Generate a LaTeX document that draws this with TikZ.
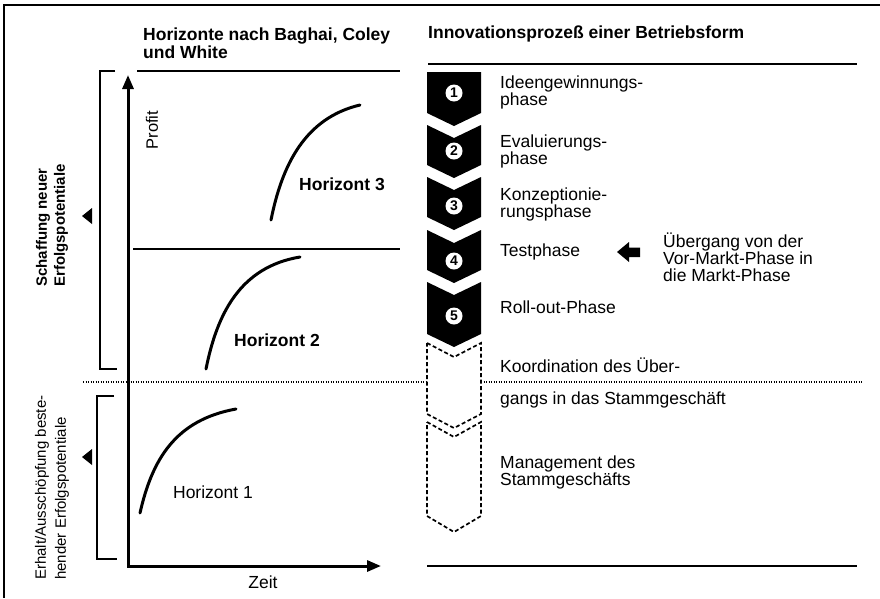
\documentclass[tikz,border=0pt]{standalone}
\usepackage{fontspec}
\setmainfont{Liberation Sans}
\usetikzlibrary{arrows.meta,positioning}

\begin{document}
\begin{tikzpicture}[x=1pt,y=-1pt,
  lab/.style={anchor=west, align=left, inner sep=0pt, font=\fontsize{17.5}{17}\selectfont},
  head/.style={lab, font=\fontsize{17.5}{18}\selectfont\bfseries},
  side/.style={rotate=90, anchor=west, align=left, inner sep=0pt},
  rule/.style={line width=1.5pt},
  axis/.style={line width=3pt, {Triangle[length=14pt,width=11pt]}-{Triangle[length=14pt,width=11pt]}},
  brace/.style={line width=1.9pt},
  curve/.style={line width=3pt, line cap=round},
  later/.style={draw, line width=1.7pt, dash pattern=on 4pt off 2.5pt},
  dots/.style={line width=1.7pt, dash pattern=on 1.3pt off 1.2pt},
  num/.style={circle, fill=white, inner sep=0pt, minimum size=17pt, font=\fontsize{14}{14}\selectfont\bfseries}
]
  \useasboundingbox (0,0) rectangle (880,598);
  \draw[line width=1.7pt] (880,5) -- (4,5) -- (4,598);

  % headings
  \node[head] (hleft) at (143,43) {Horizonte nach Baghai, Coley\\und White};
  \node[head] (hright) at (428,34) {Innovationsprozeß einer Betriebsform};

  \draw[rule] (137,71) -- (400,71);
  \draw[rule] (133,249) -- (400,249);
  \draw[rule] (428,64) -- (857,64);
  \draw[rule] (427,566) -- (857,566);

  % axes
  \coordinate (ytip) at (128,75);
  \coordinate (origin) at (128,566);
  \coordinate (xtip) at (381,566);
  \draw[axis] (ytip) -- (origin) -- (xtip);
  \node[lab, rotate=90, anchor=center, font=\fontsize{16.5}{16}\selectfont] (profit) at (152,130) {Profit};
  \node[lab, anchor=center] (zeit) at (263,582) {Zeit};

  % brackets on the left
  \draw[brace] (115,71) -- (100,71) -- (100,369) -- (117,369);
  \draw[brace] (114,396) -- (97,396) -- (97,559) -- (117,559);
  \fill (82,216) -- (92,208) -- (92,224) -- cycle;
  \fill (82,457) -- (92,449) -- (92,465) -- cycle;
  \node[side, font=\fontsize{15}{18}\selectfont\bfseries] (newpot) at (52,287) {Schaffung neuer\\Erfolgspotentiale};
  \node[side, font=\fontsize{15}{20}\selectfont] (oldpot) at (52,580) {Erhalt/Ausschöpfung beste-\\hender Erfolgspotentiale};

  % horizon curves
  \draw[curve] (271,220) .. controls (282,165) and (305,118) .. (360,105);
  \draw[curve] (206,369) .. controls (217,314) and (240,267) .. (300,257);
  \draw[curve] (140,513) .. controls (152,460) and (175,420) .. (236,409);
  \node[lab, anchor=center, font=\fontsize{17.5}{17}\selectfont\bfseries] (h3) at (342,184) {Horizont 3};
  \node[lab, anchor=center, font=\fontsize{17.5}{17}\selectfont\bfseries] (h2) at (277,340) {Horizont 2};
  \node[lab, anchor=center] (h1) at (213,492) {Horizont 1};

  \draw[dots] (83,382) -- (427,382);
  \draw[dots] (481,382) -- (863,382);

  % phase chevrons
  \fill (427,72) -- (481,72) -- (481,113) -- (454,126) -- (427,113) -- cycle;
  \node[num] (c1) at (454,93) {1};
  \foreach \t/\b/\n/\c in {125/165/2/151, 177/217/3/206, 230/270/4/261, 282/334/5/316} {
    \fill (427,\t) -- (454,\t+13) -- (481,\t) -- (481,\b) -- (454,\b+13) -- (427,\b) -- cycle;
    \node[num] (c\n) at (454,\c) {\n};
  }
  \draw[later] (427,343) -- (454,357) -- (481,343) -- (481,414) -- (454,428) -- (427,414) -- cycle;
  \draw[later] (427,422) -- (454,437) -- (481,422) -- (481,516) -- (454,532) -- (427,516) -- cycle;

  \node[lab] (p1) at (500,92) {Ideengewinnungs-\\phase};
  \node[lab] (p2) at (500,151) {Evaluierungs-\\phase};
  \node[lab] (p3) at (500,204) {Konzeptionie-\\rungsphase};
  \node[lab] (p4) at (500,252) {Testphase};
  \node[lab] (p5) at (500,307) {Roll-out-Phase};
  \node[lab] (k1) at (500,365) {Koordination des Über-};
  \node[lab] (k2) at (500,400) {gangs in das Stammgeschäft};
  \node[lab] (mgmt) at (500,472) {Management des\\Stammgeschäfts};

  % transition marker
  \fill (617,252) -- (629,242) -- (629,247.5) -- (640,247.5) -- (640,257) -- (629,257) -- (629,262) -- cycle;
  \node[lab] (trans) at (663,257) {Übergang von der\\Vor-Markt-Phase in\\die Markt-Phase};
\end{tikzpicture}
\end{document}
